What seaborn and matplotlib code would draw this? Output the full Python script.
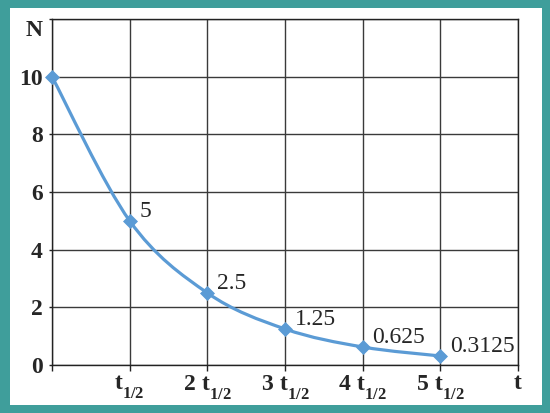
import matplotlib
matplotlib.use('Agg')
import matplotlib.pyplot as plt
import matplotlib.transforms as mtransforms
import matplotlib._mathtext as mathtext_internals
import seaborn as sns
from matplotlib.path import Path
from matplotlib.patches import PathPatch, Rectangle

# Data: number of nuclei after each half-life
half_lives = [0, 1, 2, 3, 4, 5]
amounts = [10, 5, 2.5, 1.25, 0.625, 0.3125]
point_labels = ['', '5', '2.5', '1.25', '0.625', '0.3125']
x_ticks = [0, 1, 2, 3, 4, 5, 6]
x_tick_labels = ['', r'$\mathrm{t}_{1/2}$', r'$2\ \mathrm{t}_{1/2}$', r'$3\ \mathrm{t}_{1/2}$',
                 r'$4\ \mathrm{t}_{1/2}$', r'$5\ \mathrm{t}_{1/2}$', r'$\mathrm{t}$']
y_ticks = [0, 2, 4, 6, 8, 10, 12]
y_tick_labels = ['0', '2', '4', '6', '8', '10', '']

line_color = '#5b9bd5'
border_color = '#3f9e9b'

sns.set_style('white')
plt.rcParams['font.family'] = ['Liberation Serif', 'DejaVu Serif']
plt.rcParams['mathtext.fontset'] = 'custom'
plt.rcParams['mathtext.rm'] = 'Liberation Serif:bold'
plt.rcParams['mathtext.it'] = 'Liberation Serif:bold'
plt.rcParams['mathtext.bf'] = 'Liberation Serif:bold'
# drop the "1/2" subscripts a little lower, like the original
mathtext_internals.FontConstantsBase.sub1 = 0.9

fig = plt.figure(figsize=(5.5, 4.13), dpi=100)
fig.patch.set_facecolor(border_color)
fig.add_artist(Rectangle((10 / 550, 8 / 413), 532 / 550, 397 / 413,
                         transform=fig.transFigure, facecolor='white',
                         edgecolor='none', zorder=0))

ax = fig.add_axes([52 / 550, 48 / 413, 466 / 550, 346 / 413])
ax.set_facecolor('white')

# Smoothed curve (Catmull-Rom style Bezier through the data points)
pts = list(zip(half_lives, amounts))
verts = [pts[0]]
codes = [Path.MOVETO]
for i in range(len(pts) - 1):
    p0 = pts[max(i - 1, 0)]
    p1 = pts[i]
    p2 = pts[i + 1]
    p3 = pts[min(i + 2, len(pts) - 1)]
    c1 = (p1[0] + (p2[0] - p0[0]) / 6, p1[1] + (p2[1] - p0[1]) / 6)
    c2 = (p2[0] - (p3[0] - p1[0]) / 6, p2[1] - (p3[1] - p1[1]) / 6)
    verts += [c1, c2, p2]
    codes += [Path.CURVE4] * 3
ax.add_patch(PathPatch(Path(verts, codes), facecolor='none', edgecolor=line_color,
                       lw=2.3, zorder=3, capstyle='round'))

sns.scatterplot(x=half_lives, y=amounts, marker='D', s=50, color=line_color,
                edgecolor=line_color, zorder=4, ax=ax, clip_on=False)

# Value labels
for x, y, lab in zip(half_lives, amounts, point_labels):
    if lab:
        ax.annotate(lab, xy=(x, y), xytext=(7, 3), textcoords='offset points',
                    ha='left', va='baseline', fontsize=17)

ax.set_xlim(0, 6)
ax.set_ylim(0, 12)
ax.set_xticks(x_ticks)
ax.set_xticklabels(x_tick_labels, fontsize=17)
ax.set_yticks(y_ticks)
ax.set_yticklabels(y_tick_labels, fontsize=17, fontweight='bold')

# original labels sit a bit right of the ticks / below the grid lines
x_shift = mtransforms.ScaledTranslation(4 / 72, 0, fig.dpi_scale_trans)
for lab in ax.get_xticklabels()[:-1]:
    lab.set_transform(lab.get_transform() + x_shift)
y_shift = mtransforms.ScaledTranslation(0, -4 / 72, fig.dpi_scale_trans)
for lab in ax.get_yticklabels():
    lab.set_transform(lab.get_transform() + y_shift)

ax.grid(True, color='#3a3a3a', lw=1.0)
ax.set_axisbelow(True)
for s in ax.spines.values():
    s.set_color('#222222')
    s.set_linewidth(1.0)
ax.tick_params(axis='x', bottom=True, length=4, width=1, color='#222222', pad=2)
ax.tick_params(axis='y', left=True, length=2.5, width=1, color='#222222', pad=4)

ax.annotate('N', xy=(0, 12), xytext=(-13, -8), textcoords='offset points',
            ha='center', va='center', fontsize=17, fontweight='bold')
ax.set_xlabel('')
ax.set_ylabel('')

fig.savefig('out.png', dpi=100, facecolor=fig.get_facecolor())
